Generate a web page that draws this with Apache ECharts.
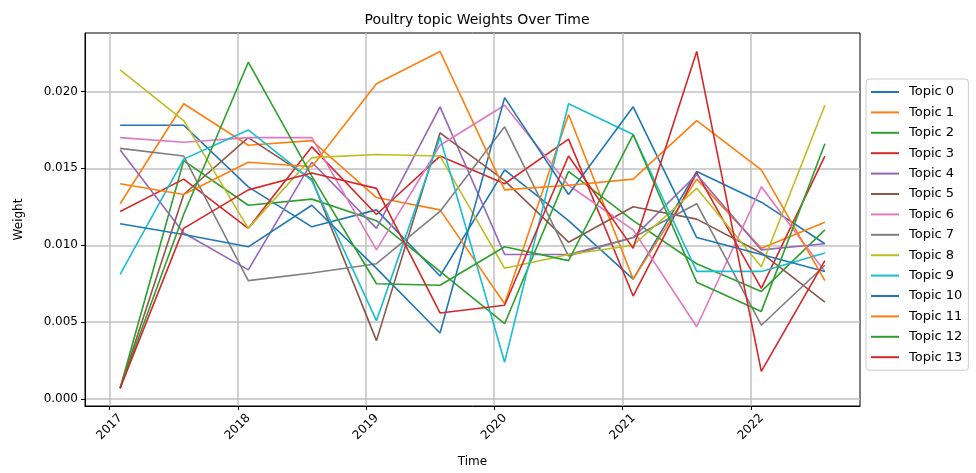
<!DOCTYPE html>
<html>
<head>
<meta charset="utf-8">
<title>Poultry topic Weights Over Time</title>
<script src="https://cdn.jsdelivr.net/npm/echarts@6.0.0/dist/echarts.min.js"></script>
<style>
  html, body { margin: 0; padding: 0; background: #fff; }
  #chart { width: 976px; height: 473px; }
</style>
</head>
<body>
<div id="chart"></div>
<script>
// half-year periods (month ends)
const dates = ['2017-01-31', '2017-07-31', '2018-01-31', '2018-07-31', '2019-01-31', '2019-07-31',
  '2020-01-31', '2020-07-31', '2021-01-31', '2021-07-31', '2022-01-31', '2022-07-31'];

const topic0 = [0.0178, 0.0178, 0.0138, 0.0112, 0.0123, 0.0080, 0.0149, 0.0116, 0.0078, 0.0148, 0.0128, 0.0101];
const topic1 = [0.0127, 0.0192, 0.0165, 0.0168, 0.0131, 0.0123, 0.0062, 0.0185, 0.0078, 0.0143, 0.0098, 0.0115];
const topic2 = [0.0007, 0.0155, 0.0126, 0.0130, 0.0116, 0.0083, 0.0049, 0.0148, 0.0116, 0.0088, 0.0070, 0.0110];
const topic3 = [0.0122, 0.0143, 0.0111, 0.0164, 0.0120, 0.0158, 0.0140, 0.0169, 0.0067, 0.0147, 0.0072, 0.0158];
const topic4 = [0.0162, 0.0108, 0.0084, 0.0154, 0.0111, 0.0190, 0.0094, 0.0094, 0.0105, 0.0146, 0.0097, 0.0101];
const topic5 = [0.0007, 0.0133, 0.0170, 0.0143, 0.0038, 0.0173, 0.0142, 0.0102, 0.0125, 0.0117, 0.0095, 0.0063];
const topic6 = [0.0170, 0.0167, 0.0170, 0.0170, 0.0097, 0.0165, 0.0191, 0.0139, 0.0110, 0.0047, 0.0138, 0.0083];
const topic7 = [0.0163, 0.0158, 0.0077, 0.0082, 0.0088, 0.0122, 0.0177, 0.0093, 0.0105, 0.0127, 0.0048, 0.0087];
const topic8 = [0.0214, 0.0181, 0.0111, 0.0157, 0.0159, 0.0158, 0.0085, 0.0094, 0.0100, 0.0137, 0.0086, 0.0191];
const topic9 = [0.0081, 0.0156, 0.0175, 0.0142, 0.0051, 0.0170, 0.0024, 0.0192, 0.0172, 0.0083, 0.0083, 0.0095];
const topic10 = [0.0114, 0.0107, 0.0099, 0.0126, 0.0085, 0.0043, 0.0196, 0.0133, 0.0190, 0.0105, 0.0094, 0.0083];
const topic11 = [0.0140, 0.0133, 0.0154, 0.0151, 0.0205, 0.0226, 0.0136, 0.0139, 0.0143, 0.0181, 0.0149, 0.0077];
const topic12 = [0.0007, 0.0120, 0.0219, 0.0145, 0.0075, 0.0074, 0.0099, 0.0090, 0.0172, 0.0076, 0.0057, 0.0166];
const topic13 = [0.0007, 0.0111, 0.0136, 0.0147, 0.0137, 0.0056, 0.0061, 0.0158, 0.0098, 0.0226, 0.0018, 0.0090];

const topics = [topic0, topic1, topic2, topic3, topic4, topic5, topic6,
  topic7, topic8, topic9, topic10, topic11, topic12, topic13];

const yearTicks = ['2017-01-01', '2018-01-01', '2019-01-01', '2020-01-01', '2021-01-01', '2022-01-01'];
const weightTicks = [0, 0.005, 0.010, 0.015, 0.020];

// matplotlib tab10 cycle
const palette = ['#1f77b4', '#ff7f0e', '#2ca02c', '#d62728', '#9467bd', '#8c564b', '#e377c2',
  '#7f7f7f', '#bcbd22', '#17becf'];

const font = 'DejaVu Sans';
const ts = d => Date.parse(d);   // UTC ms, plotted on a plain value axis

const chart = echarts.init(document.getElementById('chart'), null, { renderer: 'canvas' });

const series = topics.map((vals, i) => ({
  name: 'Topic ' + i,
  type: 'line',
  data: dates.map((d, j) => [ts(d), vals[j]]),
  showSymbol: false,
  symbol: 'none',
  color: palette[i % palette.length],
  lineStyle: { width: 1.6 },
  emphasis: { disabled: true },
  animation: false
}));

const option = {
  animation: false,
  title: {
    text: 'Poultry topic Weights Over Time',
    left: 472,
    textAlign: 'center',
    top: 8,
    textStyle: { fontFamily: font, fontSize: 14, fontWeight: 'normal', color: '#000' }
  },
  legend: {
    orient: 'vertical',
    left: 866,
    top: 79,
    icon: 'rect',
    itemWidth: 28,
    itemHeight: 2,
    itemGap: 6.4,
    backgroundColor: '#fff',
    borderColor: '#cccccc',
    borderWidth: 1,
    borderRadius: 3,
    padding: [6, 6, 6, 5],
    textStyle: { fontFamily: font, fontSize: 13, color: '#000', lineHeight: 14, padding: [0, 0, 0, 5] },
    data: series.map(s => s.name)
  },
  grid: {
    left: 85,
    right: 116,
    top: 33,
    bottom: 61,
    show: true,
    borderColor: '#000',
    borderWidth: 1,
    containLabel: false
  },
  xAxis: {
    type: 'value',
    min: ts('2016-10-23'),
    max: ts('2022-11-08'),
    name: 'Time',
    nameLocation: 'middle',
    nameGap: 50,
    nameTextStyle: { fontFamily: font, fontSize: 12, color: '#000' },
    axisLine: { show: true, onZero: false, lineStyle: { color: '#000', width: 1 } },
    axisTick: { show: true, customValues: yearTicks.map(ts), length: 4, lineStyle: { color: '#000' } },
    axisLabel: {
      customValues: yearTicks.map(ts),
      rotate: 45,
      align: 'center',
      verticalAlign: 'middle',
      margin: 21,
      fontFamily: font,
      fontSize: 12,
      color: '#000',
      formatter: v => String(new Date(v).getUTCFullYear())
    },
    splitLine: { show: true, lineStyle: { color: '#c0c0c0', width: 1.5 } }
  },
  yAxis: {
    type: 'value',
    min: -0.00045,
    max: 0.0238,
    name: 'Weight',
    nameLocation: 'middle',
    nameGap: 60,
    nameRotate: 90,
    nameTextStyle: { fontFamily: font, fontSize: 12, color: '#000' },
    axisLine: { show: true, onZero: false, lineStyle: { color: '#000', width: 1 } },
    axisTick: { show: true, customValues: weightTicks, length: 4, lineStyle: { color: '#000' } },
    axisLabel: {
      customValues: weightTicks,
      margin: 7,
      fontFamily: font,
      fontSize: 12,
      color: '#000',
      formatter: v => v.toFixed(3)
    },
    splitLine: { show: true, lineStyle: { color: '#c0c0c0', width: 1.5 } }
  },
  series: series
};

chart.setOption(option);
</script>
</body>
</html>
